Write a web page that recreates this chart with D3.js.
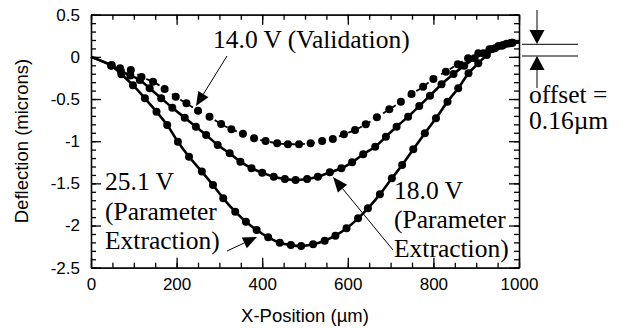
<!DOCTYPE html>
<html>
<head>
<meta charset="utf-8">
<script src="https://cdn.jsdelivr.net/npm/d3@7"></script>
<style>
  body { margin: 0; background: #fff; }
  svg { display: block; }
  .tick text { font-family: "Liberation Sans", Arial, sans-serif; font-size: 17px; fill: #000; }
</style>
</head>
<body>
<div id="app"></div>
<script>
// data (x in microns, deflection in microns)
const v14x = [48, 68, 93, 118, 145, 172, 198, 223, 250, 277, 304, 328, 355, 381, 408, 435, 460, 486, 513, 540, 565, 591, 617, 642, 668, 697, 724, 749, 776, 800, 829, 857, 881, 905, 931, 952, 971, 985]
const v14y = [-0.10, -0.135, -0.155, -0.24, -0.294, -0.381, -0.472, -0.551, -0.638, -0.709, -0.796, -0.859, -0.911, -0.966, -0.998, -1.025, -1.035, -1.035, -1.025, -0.998, -0.974, -0.918, -0.867, -0.800, -0.717, -0.622, -0.532, -0.440, -0.354, -0.262, -0.175, -0.088, -0.017, 0.043, 0.090, 0.129, 0.155, 0.168]

const v18x = [48, 70, 92, 114, 137, 164, 190, 219, 245, 269, 296, 324, 349, 375, 400, 427, 453, 478, 505, 530, 558, 585, 610, 636, 664, 689, 714, 741, 767, 792, 819, 847, 872, 896, 917, 936, 960, 979]
const v18y = [-0.10, -0.17, -0.22, -0.274, -0.372, -0.491, -0.603, -0.721, -0.828, -0.926, -1.045, -1.144, -1.243, -1.321, -1.373, -1.421, -1.448, -1.460, -1.448, -1.421, -1.369, -1.321, -1.250, -1.155, -1.065, -0.947, -0.828, -0.709, -0.583, -0.460, -0.325, -0.203, -0.104, -0.017, 0.043, 0.090, 0.133, 0.161]

const v25x = [47, 71, 98, 126, 153, 178, 203, 229, 259, 285, 309, 337, 362, 387, 414, 441, 467, 491, 519, 546, 571, 597, 624, 647, 675, 703, 727, 753, 780, 806, 833, 858, 882, 905, 925, 944, 963, 983]
const v25y = [-0.104, -0.206, -0.336, -0.491, -0.650, -0.808, -1.006, -1.184, -1.360, -1.520, -1.677, -1.836, -1.955, -2.053, -2.140, -2.204, -2.232, -2.243, -2.223, -2.180, -2.121, -2.033, -1.915, -1.796, -1.630, -1.440, -1.282, -1.096, -0.906, -0.728, -0.531, -0.372, -0.195, -0.076, 0.023, 0.102, 0.141, 0.168]

// fitted curves start from the clamped end and run to the far support
const fitStart = [0, 0]
const fitEnd = [1000, 0.17]

const xTicks = [0, 200, 400, 600, 800, 1000]
const yTicks = [0.5, 0, -0.5, -1, -1.5, -2, -2.5]
const xMinor = d3.range(0, 1001, 50)
const yMinor = d3.range(-25, 6, 1).map(d => d / 10)

const W = 626, H = 329
const fx = d3.scaleLinear().domain([0, 1000]).range([91, 519])
const fy = d3.scaleLinear().domain([-2.5, 0.5]).range([267.7, 14.7])

const svg = d3.select("#app").append("svg")
  .attr("width", W)
  .attr("height", H)

function styleAxis(g) {
  g.selectAll("path, line").attr("stroke", "#000").attr("stroke-width", 1.3)
}
// minor ticks (all four sides, pointing in)
svg.append("g").attr("transform", `translate(0,${fy(-2.5)})`)
  .call(d3.axisBottom(fx).tickValues(xMinor).tickSize(-5).tickSizeOuter(0).tickFormat(""))
  .call(styleAxis)
svg.append("g").attr("transform", `translate(0,${fy(0.5)})`)
  .call(d3.axisTop(fx).tickValues(xMinor).tickSize(-5).tickSizeOuter(0).tickFormat(""))
  .call(styleAxis)
svg.append("g").attr("transform", `translate(${fx(0)},0)`)
  .call(d3.axisLeft(fy).tickValues(yMinor).tickSize(-5).tickSizeOuter(0).tickFormat(""))
  .call(styleAxis)
svg.append("g").attr("transform", `translate(${fx(1000)},0)`)
  .call(d3.axisRight(fy).tickValues(yMinor).tickSize(-5).tickSizeOuter(0).tickFormat(""))
  .call(styleAxis)

// major ticks with labels
svg.append("g").attr("transform", `translate(0,${fy(-2.5)})`)
  .call(d3.axisBottom(fx).tickValues(xTicks).tickSize(-10).tickSizeOuter(0).tickPadding(10).tickFormat(d3.format("d")))
  .call(styleAxis)
svg.append("g").attr("transform", `translate(0,${fy(0.5)})`)
  .call(d3.axisTop(fx).tickValues(xTicks).tickSize(-10).tickSizeOuter(0).tickFormat(""))
  .call(styleAxis)
svg.append("g").attr("transform", `translate(${fx(0)},0)`)
  .call(d3.axisLeft(fy).tickValues(yTicks).tickSize(-10).tickSizeOuter(0).tickPadding(11).tickFormat(d => d3.format("")(d).replace("−", "-")))
  .call(styleAxis)
svg.append("g").attr("transform", `translate(${fx(1000)},0)`)
  .call(d3.axisRight(fy).tickValues(yTicks).tickSize(-10).tickSizeOuter(0).tickFormat(""))
  .call(styleAxis)

// axis titles
svg.append("text")
  .attr("x", 305).attr("y", 322)
  .attr("text-anchor", "middle")
  .attr("font-family", "Liberation Sans, Arial, sans-serif")
  .attr("font-size", 18.5)
  .text("X-Position (µm)")
svg.append("text")
  .attr("transform", "translate(28,141) rotate(-90)")
  .attr("text-anchor", "middle")
  .attr("font-family", "Liberation Sans, Arial, sans-serif")
  .attr("font-size", 18.5)
  .text("Deflection (microns)")

// curves
const series = [
  { x: v14x, y: v14y, dash: "5,5", width: 1.8 },
  { x: v18x, y: v18y, dash: null, width: 2.6 },
  { x: v25x, y: v25y, dash: null, width: 2.6 },
]
const line = d3.line()
  .x(d => fx(d[0]))
  .y(d => fy(d[1]))
  .curve(d3.curveCatmullRom.alpha(0.5))

series.forEach(s => {
  const pts = s.x.map((x, i) => [x, s.y[i]])
  svg.append("path")
    .datum([fitStart, ...pts, fitEnd])
    .attr("d", line)
    .attr("fill", "none")
    .attr("stroke", "#000")
    .attr("stroke-width", s.width)
    .attr("stroke-dasharray", s.dash)
  svg.append("g").selectAll("circle")
    .data(pts)
    .join("circle")
      .attr("cx", d => fx(d[0]))
      .attr("cy", d => fy(d[1]))
      .attr("r", 4)
      .attr("fill", "#000")
})

// annotations
const serif = "Liberation Serif, Times New Roman, serif"
function label(lines, x, y0, step) {
  lines.forEach((t, i) => {
    svg.append("text")
      .attr("x", x).attr("y", y0 + i * step)
      .attr("font-family", serif)
      .attr("font-size", 25.5)
      .text(t)
  })
}
label(["14.0 V (Validation)"], 213, 48, 0)
label(["25.1 V", "(Parameter", "Extraction)"], 105, 190, 29.5)
label(["18.0 V", "(Parameter", "Extraction)"], 394, 199, 29)
label(["offset =", "0.16µm"], 529, 103, 25.5)

function arrow(x1, y1, x2, y2, len, wid) {
  const a = Math.atan2(y2 - y1, x2 - x1)
  const bx = x2 - len * Math.cos(a), by = y2 - len * Math.sin(a)
  const px = -Math.sin(a) * wid / 2, py = Math.cos(a) * wid / 2
  svg.append("line")
    .attr("x1", x1).attr("y1", y1).attr("x2", bx).attr("y2", by)
    .attr("stroke", "#000").attr("stroke-width", 1)
  svg.append("path")
    .attr("d", `M${x2},${y2}L${bx + px},${by + py}L${bx - px},${by - py}Z`)
    .attr("fill", "#000")
}
arrow(227, 56, 196, 106, 14, 12)
arrow(227, 251, 257, 237, 14, 12)
arrow(393, 250, 333, 177, 15, 12)
arrow(537, 10, 537, 44, 14, 15)
arrow(537, 88, 537, 56, 14, 15)

svg.append("g").selectAll("line")
  .data([44.3, 56])
  .join("line")
    .attr("x1", 522).attr("x2", 578)
    .attr("y1", d => d).attr("y2", d => d)
    .attr("stroke", "#000").attr("stroke-width", 1)
</script>
</body>
</html>
